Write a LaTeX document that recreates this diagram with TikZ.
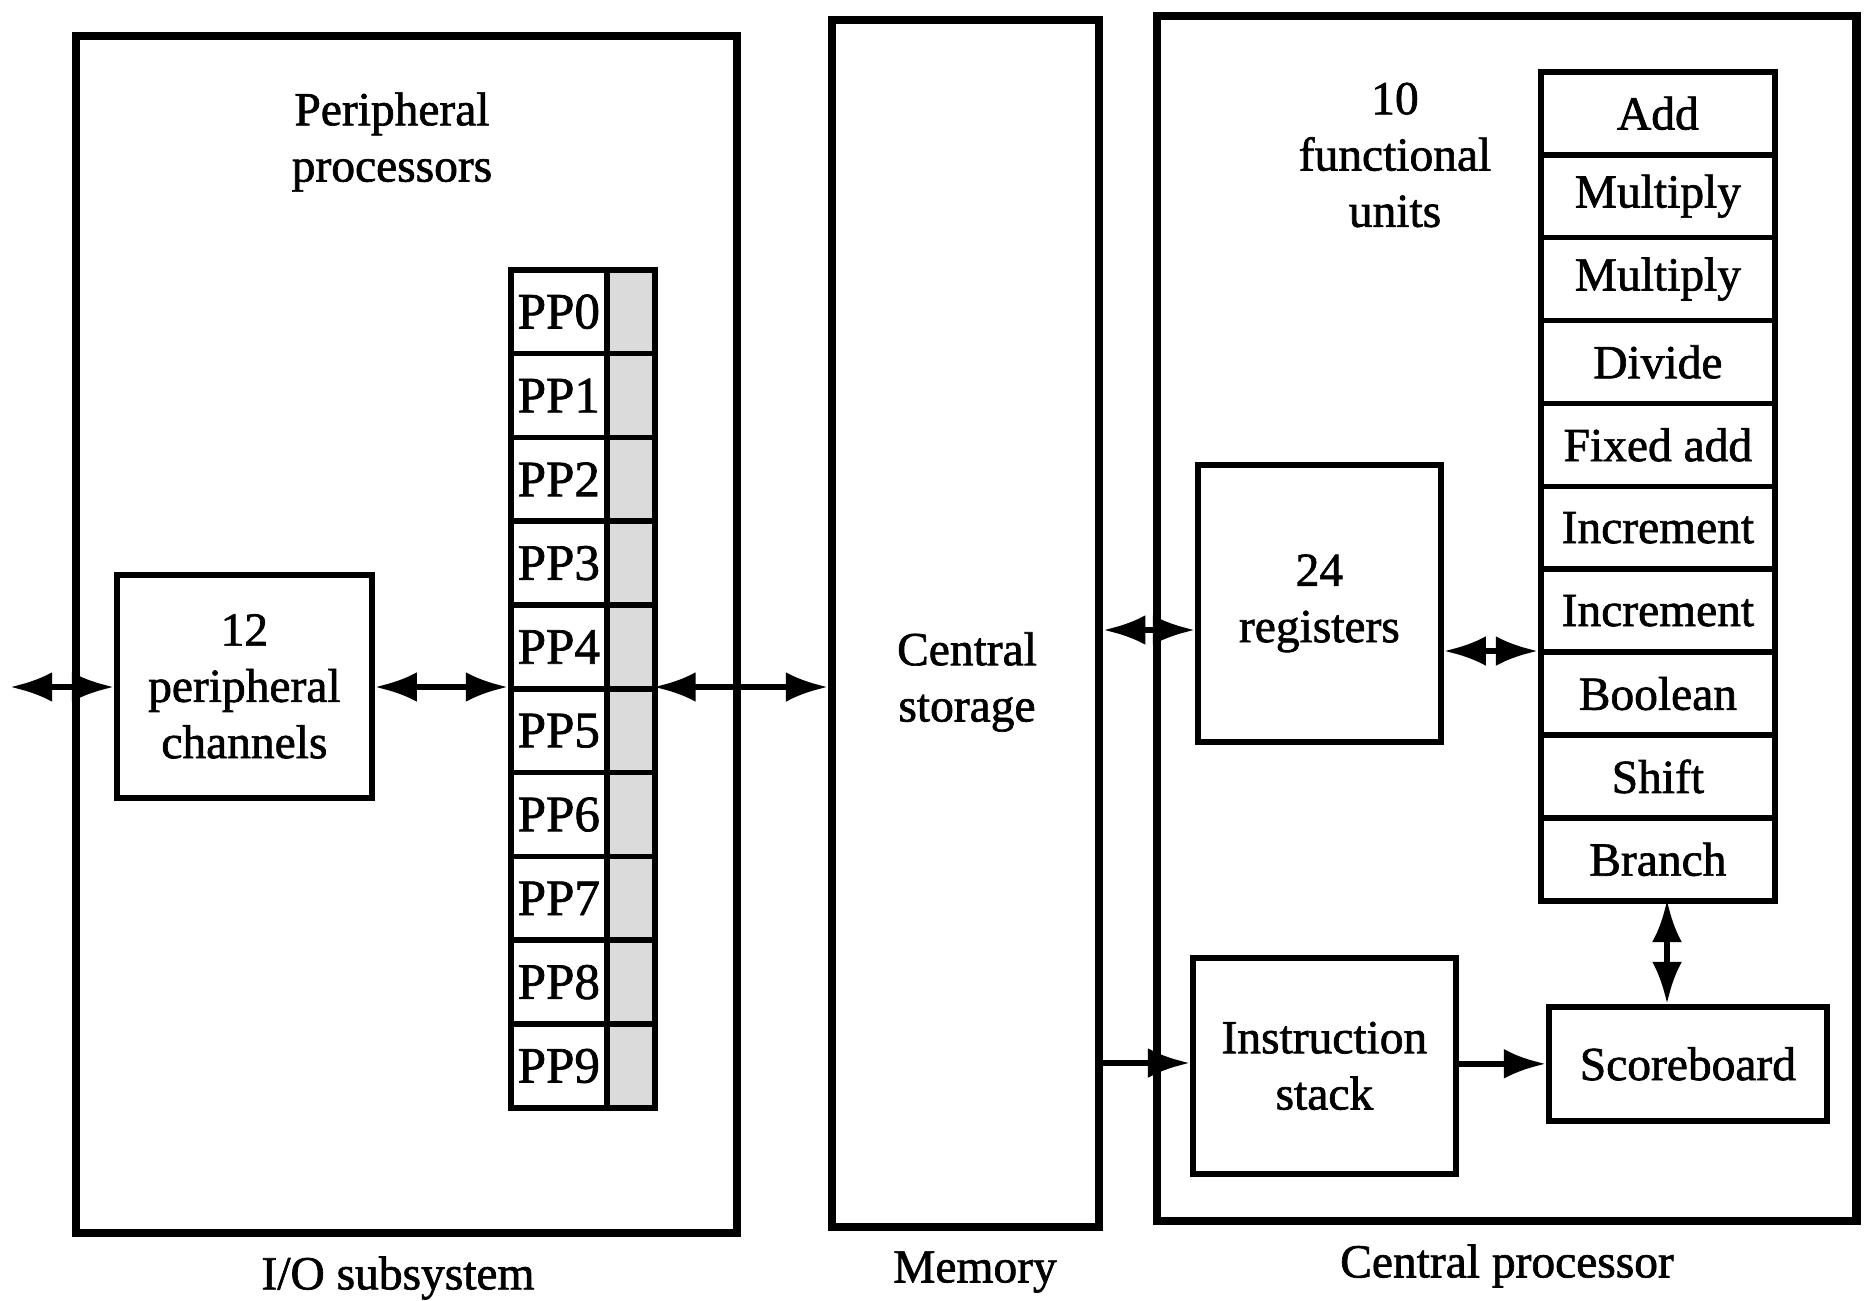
\documentclass[tikz,border=0pt]{standalone}
\usepackage{fontspec}
\setmainfont{Liberation Serif}
\newfontfamily\heavyserif{Liberation Serif}[FakeBold=1.4]
\usetikzlibrary{arrows.meta}

\begin{document}
\begin{tikzpicture}[
    x=0.01cm, y=-0.01cm,
    txt/.style={font=\fontsize{13.5}{16}\heavyserif, align=center, inner sep=0pt},
    outerbox/.style={draw, line width=2.3pt, inner sep=0pt, anchor=north west},
    unit/.style={draw, line width=1.6pt, fill=white, inner sep=0pt, anchor=north west,
                 font=\fontsize{13.5}{16}\heavyserif, align=center},
    ppcell/.style={draw, line width=1.6pt, fill=white, inner sep=0pt, anchor=north west,
                 minimum width=0.96cm, minimum height=0.838cm,
                 font=\fontsize{14.5}{16}\heavyserif},
    buffer/.style={draw, line width=1.6pt, fill=black!14, inner sep=0pt, anchor=north west,
                 minimum width=0.48cm, minimum height=0.838cm},
    fucell/.style={draw, line width=1.6pt, fill=white, inner sep=0pt, anchor=north west,
                 minimum width=2.34cm, minimum height=0.829cm,
                 font=\fontsize{13.5}{16}\heavyserif},
    link/.style={line width=1.8pt},
    both/.style={link, {Latex[length=12pt,width=8.5pt]}-{Latex[length=12pt,width=8.5pt]}},
    fwd/.style={link, -{Latex[length=12pt,width=8.5pt]}}
  ]
  % canvas
  \useasboundingbox (0,0) rectangle (1864,1300);

  % ---- three subsystems ----
  \node[outerbox, minimum width=6.61cm, minimum height=11.96cm] (io) at (72,32) {};
  \node[outerbox, minimum width=2.67cm, minimum height=12.06cm] (mem) at (828,16) {};
  \node[outerbox, minimum width=6.99cm, minimum height=12.04cm] (cp) at (1153,12) {};

  \node[txt] (iolbl)  at (398,1278) {I/O subsystem};
  \node[txt] (memlbl) at (975,1272) {Memory};
  \node[txt] (cplbl)  at (1507,1266) {Central processor};

  % ---- I/O subsystem ----
  \node[txt] (pptitle) at (392,142) {Peripheral\\processors};
  \node[unit, minimum width=2.55cm, minimum height=2.23cm] (chan) at (114,572)
       {12\\peripheral\\channels};

  \foreach \i in {0,...,9} {
    \node[ppcell] (pp\i) at (508,267+83.8*\i) {PP\i};
    \node[buffer] (buf\i) at (604,267+83.8*\i) {};
  }
  \node[inner sep=0pt, anchor=north west, minimum width=1.44cm, minimum height=8.38cm]
       (ppcol) at (508,267) {};

  % ---- memory ----
  \node[txt] (cs) at (967,682) {Central\\storage};

  % ---- central processor ----
  \node[txt] (futitle) at (1395,155) {10\\functional\\units};
  \foreach \n/\t in {0/Add,1/Multiply,2/Multiply,3/Divide,4/Fixed add,
                     5/Increment,6/Increment,7/Boolean,8/Shift,9/Branch} {
    \node[fucell] (fu\n) at (1538,69+82.9*\n) {\t};
  }
  \node[inner sep=0pt, anchor=north west, minimum width=2.34cm, minimum height=8.29cm]
       (fucol) at (1538,69) {};

  \node[unit, minimum width=2.43cm, minimum height=2.77cm] (regs) at (1195,462)
       {24\\registers};
  \node[unit, minimum width=2.63cm, minimum height=2.16cm] (istack) at (1190,955)
       {Instruction\\stack};
  \node[unit, minimum width=2.78cm, minimum height=1.14cm] (sb) at (1546,1004)
       {Scoreboard};

  % ---- connectors ----
  \coordinate (ext) at (10,687);
  \coordinate (ppbus) at (0,687);
  \coordinate (regbus) at (0,630);
  \coordinate (fubus) at (0,651);
  \coordinate (instbus) at (0,1063);
  \coordinate (sbx) at (1667,0);

  \draw[both] (ext) -- (chan.west |- ext);
  \draw[both] (chan.east |- ppbus) -- (ppcol.west |- ppbus);
  \draw[both] (ppcol.east |- ppbus) -- (mem.west |- ppbus);
  \draw[both] (mem.east |- regbus) -- (regs.west |- regbus);
  \draw[both] (regs.east |- fubus) -- (fucol.west |- fubus);
  \draw[fwd]  (mem.east |- instbus) -- (istack.west |- instbus);
  \draw[fwd]  (istack.east |- sb.west) -- (sb.west);
  \draw[both] (sbx |- fucol.south) -- (sbx |- sb.north);
\end{tikzpicture}
\end{document}
